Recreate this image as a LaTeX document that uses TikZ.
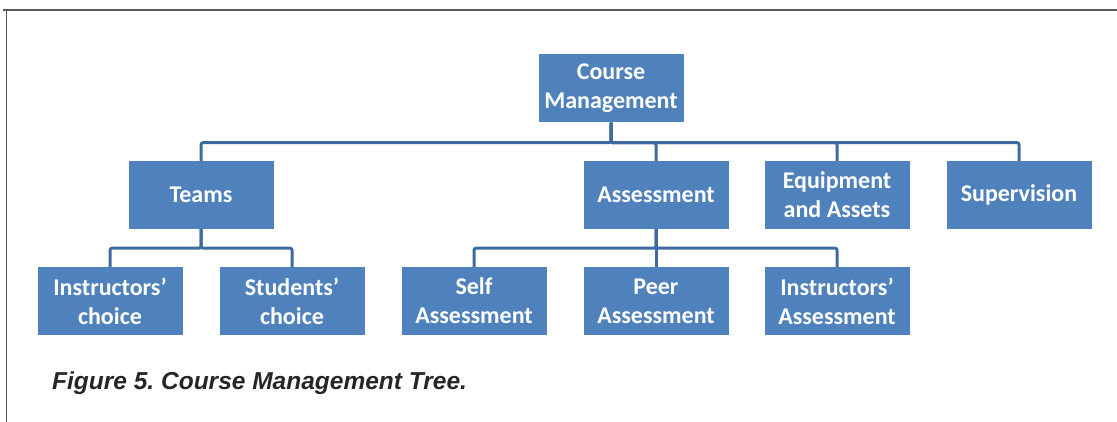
\documentclass[tikz,border=0pt]{standalone}
\usepackage{fontspec}
\setmainfont{Carlito}
\newfontfamily\capfont{Liberation Sans}
\usepackage{tikz}
\usetikzlibrary{positioning,calc}
\definecolor{boxblue}{HTML}{4F81BD}
\definecolor{linkblue}{HTML}{3E6B9F}
\tikzstyle{orgbox}=[fill=boxblue,text=white,font=\bfseries\fontsize{24}{29}\selectfont,
  minimum width=145pt,minimum height=68pt,inner sep=0pt,align=center]
\tikzstyle{link}=[draw=linkblue,line width=3pt,rounded corners=2pt]

\begin{document}
\begin{tikzpicture}[x=1pt,y=1pt]
    \useasboundingbox (0,0) rectangle (1117,422);
    % page frame
    \draw [gray!70!black,line width=1.5pt] (3,412) -- (1117,412);
    \draw [gray!70!black,line width=1.5pt] (6.5,412) -- (6.5,0);
    % top
    \node [orgbox] (root) at (611,333.5) {Course\\Management};
    % first level
    \node [orgbox] (teams) at (201,227) {Teams};
    \node [orgbox] (assess) at (656,227) {Assessment};
    \node [orgbox] (equip) at (837,227) {Equipment\\and Assets};
    \node [orgbox] (superv) at (1019,227) {Supervision};
    % second level
    \node [orgbox] (instchoice) at (110,121) {Instructors’\\choice};
    \node [orgbox] (studchoice) at (292,121) {Students’\\choice};
    \node [orgbox] (selfass) at (474,121) {Self\\Assessment};
    \node [orgbox] (peerass) at (656,121) {Peer\\Assessment};
    \node [orgbox] (instass) at (837,121) {Instructors’\\Assessment};
    % connectors
    \foreach \kid in {teams,assess,equip,superv}
      \draw [link] (root.south) -- ++(0,-20) -| (\kid.north);
    \foreach \kid in {instchoice,studchoice}
      \draw [link] (teams.south) -- ++(0,-19) -| (\kid.north);
    \foreach \kid in {selfass,peerass,instass}
      \draw [link] (assess.south) -- ++(0,-19) -| (\kid.north);
    % caption
    \node [anchor=west,inner sep=0pt,text=black!85,font=\capfont\bfseries\itshape\fontsize{24.5}{28}\selectfont]
      (caption) at (52,39) {Figure 5.\ Course Management Tree.};
\end{tikzpicture}
\end{document}
